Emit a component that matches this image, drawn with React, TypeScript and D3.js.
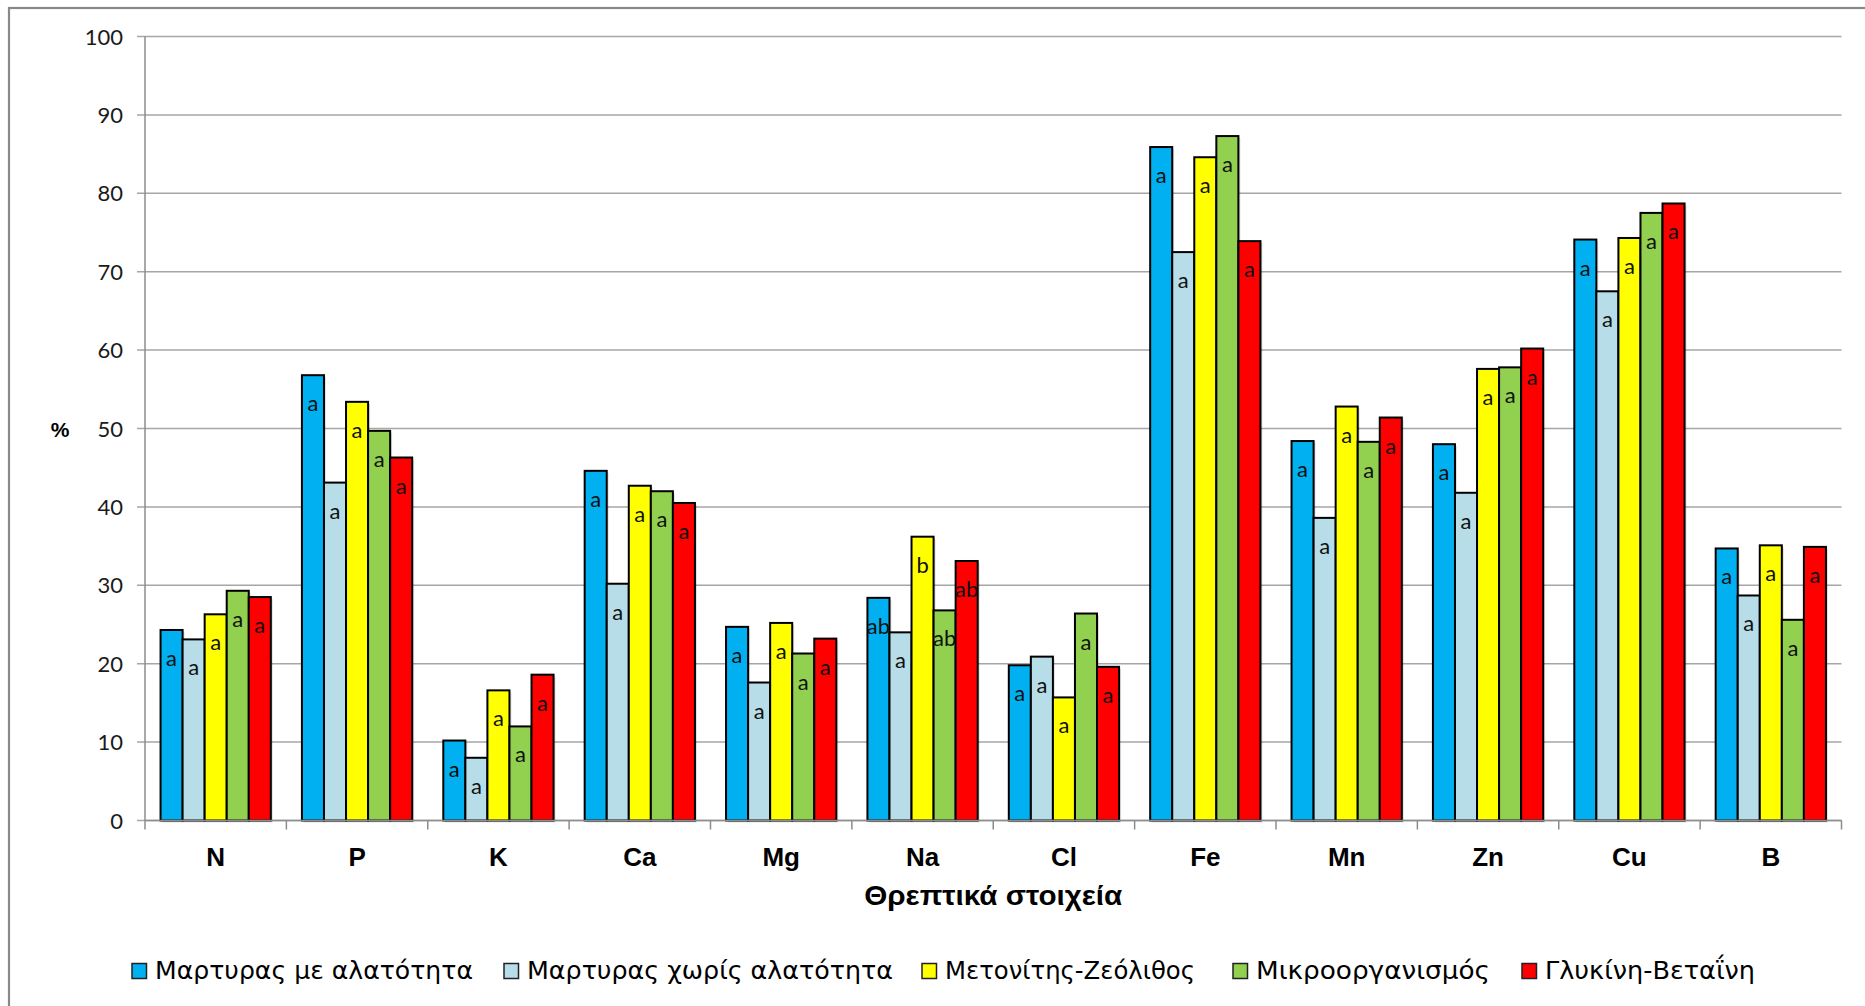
import React from "react";
import * as d3 from "d3";

const categories = ["N", "P", "K", "Ca", "Mg", "Na", "Cl", "Fe", "Mn", "Zn", "Cu", "B"];
const seriesNames = [
  "Μαρτυρας με αλατότητα",
  "Μαρτυρας χωρίς αλατότητα",
  "Μετονίτης-Ζεόλιθος",
  "Μικροοργανισμός",
  "Γλυκίνη-Βεταΐνη",
];
const seriesColors = ["#00b0f0", "#b7dde8", "#ffff00", "#92d050", "#ff0000"];

const controlSalt = [24.3, 56.8, 10.2, 44.6, 24.7, 28.4, 19.8, 85.9, 48.4, 48.0, 74.1, 34.7];
const controlNoSalt = [23.1, 43.1, 8.0, 30.2, 17.6, 24.0, 20.9, 72.5, 38.6, 41.8, 67.5, 28.7];
const zeolite = [26.3, 53.4, 16.6, 42.7, 25.2, 36.2, 15.7, 84.6, 52.8, 57.6, 74.3, 35.1];
const microorg = [29.3, 49.7, 12.0, 42.0, 21.3, 26.8, 26.4, 87.3, 48.3, 57.8, 77.5, 25.6];
const glycine = [28.5, 46.3, 18.6, 40.5, 23.2, 33.1, 19.6, 73.9, 51.4, 60.2, 78.7, 34.9];

const lettersControlSalt = ["a", "a", "a", "a", "a", "ab", "a", "a", "a", "a", "a", "a"];
const lettersControlNoSalt = ["a", "a", "a", "a", "a", "a", "a", "a", "a", "a", "a", "a"];
const lettersZeolite = ["a", "a", "a", "a", "a", "b", "a", "a", "a", "a", "a", "a"];
const lettersMicroorg = ["a", "a", "a", "a", "a", "ab", "a", "a", "a", "a", "a", "a"];
const lettersGlycine = ["a", "a", "a", "a", "a", "ab", "a", "a", "a", "a", "a", "a"];

const yTicks = [0, 10, 20, 30, 40, 50, 60, 70, 80, 90, 100];

const seriesValues = [controlSalt, controlNoSalt, zeolite, microorg, glycine];
const seriesLetters = [lettersControlSalt, lettersControlNoSalt, lettersZeolite, lettersMicroorg, lettersGlycine];

const W = 1865;
const H = 1006;
const plot = { left: 145, right: 1841.5, top: 36.5, bottom: 820.5 };
const legendX = [132, 504, 922, 1233, 1522];
const legendTextW = [318, 366, 250, 234, 210];

export default function App() {
  const x0 = d3.scaleBand<string>().domain(categories).range([plot.left, plot.right]).paddingInner(0).paddingOuter(0);
  const bw = x0.bandwidth();
  const groupW = bw * 0.78;
  const x1 = d3
    .scaleBand<number>()
    .domain(d3.range(seriesNames.length))
    .range([(bw - groupW) / 2, (bw + groupW) / 2])
    .padding(0);
  const y = d3.scaleLinear().domain([0, 100]).range([plot.bottom, plot.top]);

  const boundaries = d3.range(categories.length + 1).map((i) => plot.left + i * bw);

  return (
    <svg
      width={W}
      height={H}
      style={{ position: "absolute", left: 0, top: 0, background: "#fff" }}
    >
      <rect x={0} y={0} width={W} height={H} fill="#fff" />
      <rect x={9} y={8} width={W + 20} height={H + 20} fill="none" stroke="#898989" strokeWidth={2.2} />

      {/* gridlines */}
      {yTicks.map((t) => (
        <line key={"g" + t} x1={plot.left - 8} x2={plot.right} y1={y(t)} y2={y(t)} stroke="#a6a6a6" strokeWidth={1.5} />
      ))}
      {/* y axis */}
      <line x1={plot.left} x2={plot.left} y1={plot.top} y2={plot.bottom} stroke="#8c8c8c" strokeWidth={1.5} />
      {yTicks.map((t) => (
        <text
          key={"yt" + t}
          x={123}
          y={y(t) + 8}
          textAnchor="end"
          fontFamily="Lato"
          fontSize={22}
          fill="#1a1a1a"
        >
          {t}
        </text>
      ))}
      {/* x ticks */}
      {boundaries.map((b, i) => (
        <line key={"xt" + i} x1={b} x2={b} y1={plot.bottom} y2={plot.bottom + 9} stroke="#8c8c8c" strokeWidth={1.5} />
      ))}

      {/* bars */}
      {categories.map((c, ci) => (
        <g key={c} transform={`translate(${x0(c)},0)`}>
          {seriesValues.map((vals, si) => {
            const v = vals[ci];
            const bx = x1(si)!;
            const by = y(v);
            return (
              <g key={si}>
                <rect
                  x={bx + 2}
                  y={by + 2}
                  width={x1.bandwidth()}
                  height={plot.bottom - by}
                  fill="#000"
                  opacity={0.12}
                />
                <rect
                  x={bx}
                  y={by}
                  width={x1.bandwidth()}
                  height={plot.bottom - by}
                  fill={seriesColors[si]}
                  stroke="#000"
                  strokeWidth={2}
                />
                <text
                  x={bx + x1.bandwidth() / 2}
                  y={by + 36}
                  textAnchor="middle"
                  fontFamily="Lato"
                  fontSize={22}
                  fill="#111"
                >
                  {seriesLetters[si][ci]}
                </text>
              </g>
            );
          })}
        </g>
      ))}
      {/* x axis line */}
      <line x1={plot.left} x2={plot.right} y1={plot.bottom} y2={plot.bottom} stroke="#8c8c8c" strokeWidth={1.5} />

      {/* category labels */}
      {categories.map((c) => (
        <text
          key={"cl" + c}
          x={x0(c)! + bw / 2}
          y={866}
          textAnchor="middle"
          fontFamily="Liberation Sans, Arial"
          fontWeight="bold"
          fontSize={26}
          fill="#000"
        >
          {c}
        </text>
      ))}
      <text
        x={(plot.left + plot.right) / 2}
        y={905}
        textAnchor="middle"
        fontFamily="Liberation Sans, Arial"
        fontWeight="bold"
        fontSize={27}
        textLength={258}
        lengthAdjust="spacingAndGlyphs"
        fill="#000"
      >
        Θρεπτικά στοιχεία
      </text>
      <text x={60} y={437} textAnchor="middle" fontFamily="Liberation Sans, Arial" fontWeight="bold" fontSize={21} fill="#000">
        %
      </text>

      {/* legend */}
      {seriesNames.map((n, i) => (
        <g key={"lg" + i}>
          <rect x={legendX[i]} y={963.5} width={14.5} height={15} fill={seriesColors[i]} stroke="#222" strokeWidth={1.5} />
          <text
            x={legendX[i] + 23}
            y={979}
            fontFamily="DejaVu Sans"
            fontSize={24}
            textLength={legendTextW[i]}
            lengthAdjust="spacingAndGlyphs"
            fill="#000"
          >
            {n}
          </text>
        </g>
      ))}
    </svg>
  );
}
